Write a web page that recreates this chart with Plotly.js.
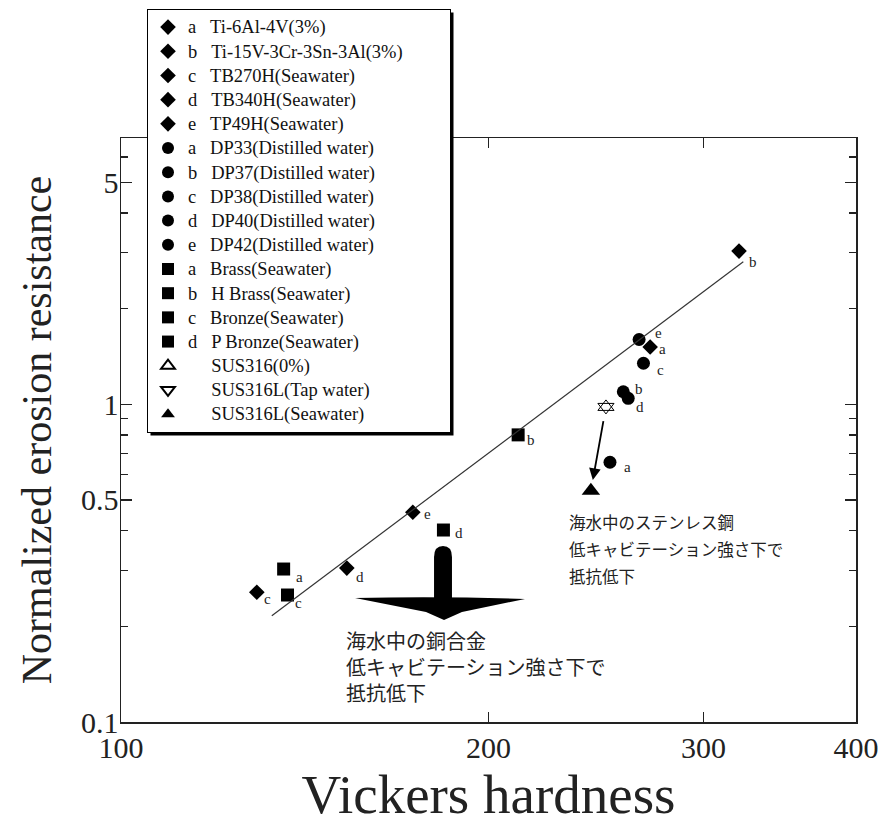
<!DOCTYPE html>
<html>
<head>
<meta charset="utf-8">
<script src="https://cdn.plot.ly/plotly-3.0.1.min.js"></script>
<style>
html,body{margin:0;padding:0;background:#fff;}
#chart{width:882px;height:827px;}
.legendtext{font-size:18.5px !important;}
</style>
</head>
<body>
<div id="chart"></div>
<script>
// ---------- data ----------
const materials = ['Ti-6Al-4V(3%)', 'Ti-15V-3Cr-3Sn-3Al(3%)', 'TB270H(Seawater)', 'TB340H(Seawater)', 'TP49H(Seawater)',
  'DP33(Distilled water)', 'DP37(Distilled water)', 'DP38(Distilled water)', 'DP40(Distilled water)', 'DP42(Distilled water)',
  'Brass(Seawater)', 'H Brass(Seawater)', 'Bronze(Seawater)', 'P Bronze(Seawater)',
  'SUS316(0%)', 'SUS316L(Tap water)', 'SUS316L(Seawater)'];
const letters = ['a', 'b', 'c', 'd', 'e', 'a', 'b', 'c', 'd', 'e', 'a', 'b', 'c', 'd', '', '', ''];
const hardness = [271.3, 320.8, 129.2, 153.1, 173.4, 251.5, 257.9, 267.9, 260.3, 265.7, 135.9, 211.5, 136.9, 183.7, 249.6, 249.6, 242.6];
const resistance = [1.514, 3.034, 0.256, 0.305, 0.457, 0.657, 1.095, 1.346, 1.044, 1.599, 0.303, 0.801, 0.251, 0.402, 0.981, 0.981, 0.534];
const fitHardness = [132.9, 323.4];
const fitResistance = [0.216, 2.808];
const xTicks = [100, 200, 300, 400];
const yTicks = [0.1, 0.5, 1, 5];
const yTickText = ['0.1', '0.5', '1', '5'];
const yMinorTicks = [0.2, 0.3, 0.4, 0.6, 0.7, 0.8, 0.9, 2, 3, 4, 6];
const steelNote = ['海水中のステンレス鋼', '低キャビテーション強さ下で', '抵抗低下'];
const copperNote = ['海水中の銅合金', '低キャビテーション強さ下で', '抵抗低下'];

// ---------- styles ----------
const symbols = ['diamond','diamond','diamond','diamond','diamond','circle','circle','circle','circle','circle',
  'square','square','square','square','triangle-up-open','triangle-down-open','triangle-up'];
const sizes = {diamond: 12, circle: 13, square: 13, 'triangle-up-open': 14, 'triangle-down-open': 14, 'triangle-up': 16};
const labelDx = [12, 14, 11, 13, 15, 18, 16, 17, 12, 19, 16, 13, 11, 16, 0, 0, 0];
const labelDy = [2, 11, 7, 9, 2, 5, -3, 7, 9, -6, 8, 5, 8, 3, 0, 0, 0];
const SERIF = '"Liberation Serif", "Times New Roman", serif';
const JP = '"Noto Sans CJK JP", sans-serif';
const NB = '\u00a0';

const W = 882, H = 827, ML = 121, MR = 26, MT = 138, MB = 105;
const PW = W - ML - MR, PH = H - MT - MB;
const px = v => (v - ML) / PW;
const py = v => (H - MB - v) / PH;

const traces = [];
materials.forEach((m, i) => {
  const pad = letters[i] ? letters[i] + NB.repeat(3) : NB.repeat(5);
  const tail = i === 1 ? NB.repeat(9) : '';
  traces.push({
    type: 'scatter', mode: 'markers',
    x: [hardness[i]], y: [resistance[i]],
    name: pad + m + tail,
    marker: {symbol: symbols[i], size: sizes[symbols[i]], color: '#000',
      line: {color: '#000', width: symbols[i].endsWith('open') ? 1 : 0}},
    hoverinfo: 'skip'
  });
});
traces.push({type: 'scatter', mode: 'lines', x: fitHardness, y: fitResistance,
  line: {color: '#333', width: 1.2}, showlegend: false, hoverinfo: 'skip'});

const annotations = [];
materials.forEach((m, i) => {
  if (!letters[i]) return;
  annotations.push({x: Math.log10(hardness[i]), y: Math.log10(resistance[i]), xref: 'x', yref: 'y',
    text: letters[i], showarrow: false, xshift: labelDx[i], yshift: -labelDy[i],
    font: {family: SERIF, size: 15, color: '#222'}});
});
// arrow from tap-water SUS316L to seawater SUS316L
annotations.push({x: Math.log10(hardness[16]), y: Math.log10(resistance[16]), xref: 'x', yref: 'y',
  ax: Math.log10(hardness[15]), ay: Math.log10(resistance[15]), axref: 'x', ayref: 'y',
  showarrow: true, arrowhead: 2, arrowsize: 1.3, arrowwidth: 1.8, arrowcolor: '#000',
  standoff: 11, startstandoff: 13, text: ''});
const steelY = [522, 549, 576];
steelNote.forEach((t, k) => annotations.push({xref: 'paper', yref: 'paper', x: px(567), y: py(steelY[k]),
  xanchor: 'left', yanchor: 'middle', text: t, showarrow: false, font: {family: JP, size: 16.5, color: '#222'}}));
annotations.push({xref: 'paper', yref: 'paper', x: px(344), y: py(666), xanchor: 'left', yanchor: 'middle',
  align: 'left', text: copperNote.join('<br>'), showarrow: false, font: {family: JP, size: 20, color: '#222'}});

// big downward arrow (copper alloys)
const P = (x, y) => px(x).toFixed(4) + ',' + py(y).toFixed(4);
const shapes = [
  {type: 'path', xref: 'paper', yref: 'paper', fillcolor: '#000', line: {width: 0},
   path: 'M' + P(434, 600) + ' L' + P(434, 557) + ' Q' + P(434, 546) + ' ' + P(443, 546) + ' Q' + P(452, 546) + ' ' + P(452, 557) + ' L' + P(452, 600) + ' Z'},
  {type: 'path', xref: 'paper', yref: 'paper', fillcolor: '#000', line: {width: 0},
   path: 'M' + P(355, 598) + ' Q' + P(440, 596) + ' ' + P(525, 599) + ' L' + P(462, 612) + ' L' + P(444, 620) + ' L' + P(426, 612) + ' Z'}
];

const axisCommon = {showline: true, linecolor: '#222', linewidth: 1.5, mirror: 'ticks', ticks: 'inside',
  tickcolor: '#222', tickwidth: 1.3, showgrid: false, zeroline: false, automargin: false,
  tickfont: {family: SERIF, size: 30, color: '#222'}};

const layout = {
  width: W, height: H,
  margin: {l: ML, r: MR, t: MT, b: MB, autoexpand: false},
  paper_bgcolor: '#fff', plot_bgcolor: '#fff',
  showlegend: true,
  legend: {x: px(147), y: py(9), xanchor: 'left', yanchor: 'top', bgcolor: '#fff', maxheight: 470,
    bordercolor: '#000', borderwidth: 1, font: {family: SERIF, size: 16.3, color: '#111'},
    itemsizing: 'constant', traceorder: 'normal'},
  xaxis: Object.assign({}, axisCommon, {type: 'log', range: [2, Math.log10(400)],
    tickmode: 'array', tickvals: xTicks, ticktext: xTicks.map(String), ticklen: 10, ticklabelstandoff: -2,
    title: {text: 'Vickers hardness', font: {family: SERIF, size: 55, color: '#222'}, standoff: 12}}),
  yaxis: Object.assign({}, axisCommon, {type: 'log', range: [-1, 0.838],
    tickmode: 'array', tickvals: yTicks, ticktext: yTickText, ticklen: 11, ticklabelstandoff: -5,
    minor: {tickmode: 'array', tickvals: yMinorTicks, ticks: 'inside', ticklen: 7, tickcolor: '#222', tickwidth: 1.3},
    title: {text: NB.repeat(6) + 'Normalized erosion resistance', font: {family: SERIF, size: 42, color: '#222'}, standoff: 16}}),
  annotations: annotations,
  shapes: shapes
};

Plotly.newPlot('chart', traces, layout, {displayModeBar: false, staticPlot: true}).then(gd => {
  const bg = gd.querySelector('.legend .bg');
  if (!bg) return;
  const r = bg.getBoundingClientRect();
  const g = gd.getBoundingClientRect();
  const x0 = r.left - g.left, y0 = r.top - g.top, x1 = r.right - g.left, y1 = r.bottom - g.top;
  const shadow = {type: 'rect', xref: 'paper', yref: 'paper', fillcolor: '#000', line: {width: 0},
    x0: px(x0 + 3), x1: px(x1 + 3), y0: py(y1 + 3), y1: py(y0 + 3)};
  Plotly.relayout(gd, {shapes: shapes.concat([shadow])});
});
</script>
</body>
</html>
